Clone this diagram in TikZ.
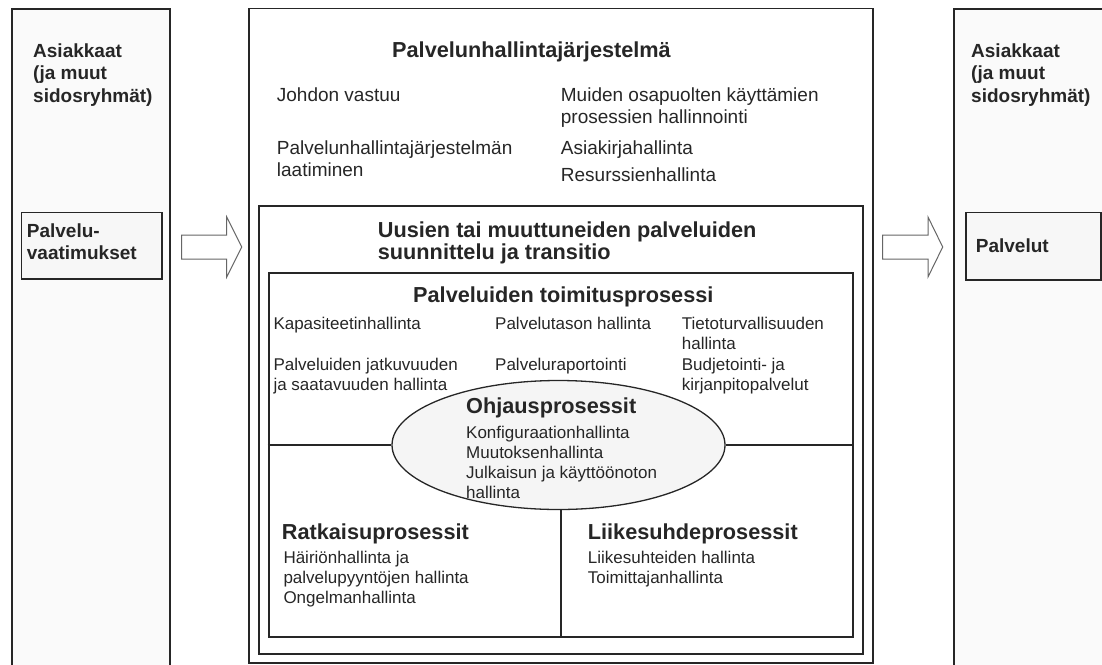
\documentclass[tikz,border=0pt]{standalone}
\usepackage{fontspec}
\setmainfont{Liberation Sans}
\usetikzlibrary{shapes.geometric}

\tikzset{
  boxline/.style={draw=black!85, line width=1.5pt, inner sep=0pt, anchor=north west},
  heavy/.style={boxline, line width=2.2pt},
  txt/.style={inner sep=0pt, anchor=base west, align=left, text=black!85},
  big/.style={txt, font=\fontsize{19}{22}\selectfont},
  small/.style={txt, font=\fontsize{17}{20}\selectfont},
  head/.style={txt, font=\fontsize{21.7}{22}\selectfont\bfseries},
  side/.style={txt, font=\fontsize{19}{22.5}\selectfont\bfseries},
  blockarrow/.style={draw=black!60, line width=1pt, fill=white},
}

\begin{document}
\begin{tikzpicture}[x=1pt, y=-1pt]
	\useasboundingbox (0,0) rectangle (1102,664);
	\clip (0,0) rectangle (1102,664);

	% asiakkaat, vasen (multi-line nodes sit on their last baseline)
	\node[boxline, fill=black!2, minimum width=158pt, minimum height=680pt] (custin) at (11,8) {};
	\node[boxline, fill=black!3, minimum width=140.3pt, minimum height=66.6pt] (req) at (20.7,211.7) {};
	\node[side] (custintxt) at (33,102) {Asiakkaat\\(ja muut\\sidosryhmät)};
	\node[side] (reqtxt) at (26.7,259.5) {Palvelu-\\vaatimukset};

	% nuolet
	\draw[blockarrow] (181.7,235) -- (226.7,235) -- (226.7,217) -- (241.7,247) -- (226.7,277) -- (226.7,259) -- (181.7,259) -- cycle;
	\draw[blockarrow] (882.7,235) -- (928,235) -- (928,217) -- (942.7,247) -- (928,277) -- (928,259) -- (882.7,259) -- cycle;

	% palvelunhallintajarjestelma
	\node[boxline, minimum width=624pt, minimum height=654.5pt] (sms) at (248,7.5) {};
	\node[head] (smstxt) at (392,57) {Palvelunhallintajärjestelmä};
	\node[big] (mgmt) at (276.7,101) {Johdon vastuu};
	\node[big] (plan) at (276.7,176) {Palvelunhallintajärjestelmän\\laatiminen};
	\node[big] (other) at (560.7,123) {Muiden osapuolten käyttämien\\prosessien hallinnointi};
	\node[big] (docs) at (560.7,154) {Asiakirjahallinta};
	\node[big] (res) at (560.7,181) {Resurssienhallinta};

	% suunnittelu ja transitio
	\node[boxline, minimum width=604pt, minimum height=448pt] (trans) at (258,205) {};
	\node[head] (transtxt) at (377.7,259) {Uusien tai muuttuneiden palveluiden\\suunnittelu ja transitio};

	% toimitusprosessi
	\node[heavy, minimum width=584.5pt, minimum height=364pt] (deliv) at (267.5,272) {};
	\node[head] (delivtxt) at (413,302) {Palveluiden toimitusprosessi};
	\node[small] (cap) at (273.3,329) {Kapasiteetinhallinta};
	\node[small] (slm) at (495,329) {Palvelutason hallinta};
	\node[small] (sec) at (681.7,349) {Tietoturvallisuuden\\hallinta};
	\node[small] (cont) at (273.3,390) {Palveluiden jatkuvuuden\\ja saatavuuden hallinta};
	\node[small] (rep) at (495,370) {Palveluraportointi};
	\node[small] (budg) at (681.7,390) {Budjetointi- ja\\kirjanpitopalvelut};

	% ohjausprosessit
	\node[ellipse, draw=black!85, line width=1.3pt, fill=black!4, minimum width=333pt, minimum height=129pt, inner sep=0pt] (ctrl) at (558.5,445) {};
	\draw[line width=1.5pt, black!85] (deliv.west |- ctrl.west) -- (ctrl.west);
	\draw[line width=1.5pt, black!85] (ctrl.east) -- (deliv.east |- ctrl.east);
	\draw[line width=1.5pt, black!85] ([xshift=2.5pt]ctrl.south) -- ([xshift=2.5pt]ctrl.south |- deliv.south);
	\node[head] (ctrltxt) at (466,413) {Ohjausprosessit};
	\node[small] (ctrlitems) at (466,498) {Konfiguraationhallinta\\Muutoksenhallinta\\Julkaisun ja käyttöönoton\\hallinta};

	% ratkaisu- ja liikesuhdeprosessit
	\node[head] (restxt) at (281.7,539) {Ratkaisuprosessit};
	\node[small] (resitems) at (283.3,603) {Häiriönhallinta ja\\palvelupyyntöjen hallinta\\Ongelmanhallinta};
	\node[head] (reltxt) at (587.7,539) {Liikesuhdeprosessit};
	\node[small] (relitems) at (587.7,583) {Liikesuhteiden hallinta\\Toimittajanhallinta};

	% asiakkaat, oikea
	\node[boxline, fill=black!2, minimum width=160pt, minimum height=680pt] (custout) at (953,8) {};
	\node[boxline, fill=black!3, minimum width=135pt, minimum height=67.3pt] (svc) at (965,211.7) {};
	\node[side] (custouttxt) at (971,102) {Asiakkaat\\(ja muut\\sidosryhmät)};
	\node[side] (svctxt) at (975.7,252) {Palvelut};
\end{tikzpicture}
\end{document}
